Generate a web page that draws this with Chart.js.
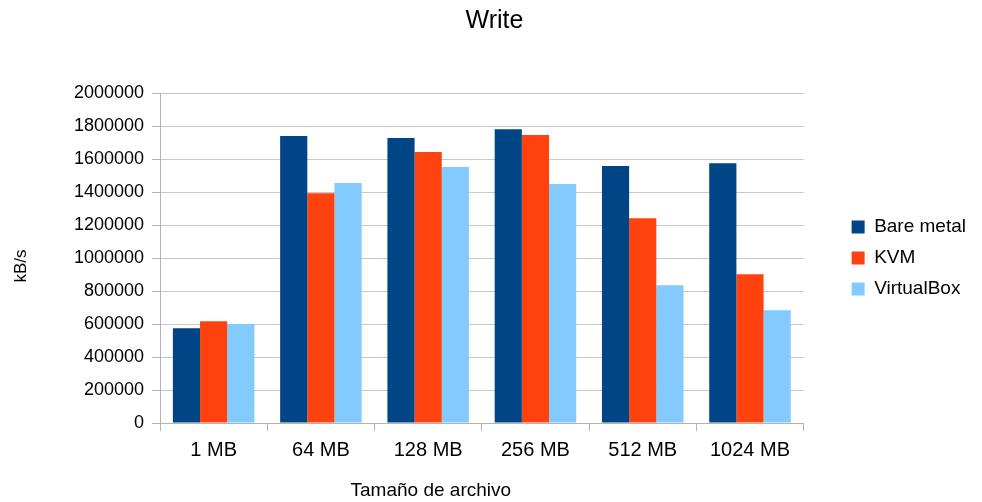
<!DOCTYPE html>
<html>
<head>
<meta charset="utf-8">
<script src="https://cdn.jsdelivr.net/npm/chart.js@4/dist/chart.umd.min.js"></script>
<style>
  html, body { margin: 0; padding: 0; background: #ffffff; }
  #wrap { width: 982px; height: 502px; position: relative; }
</style>
</head>
<body>
<div id="wrap"><canvas id="chart" width="982" height="502"></canvas></div>
<script>
// File sizes tested
const categories = ['1 MB', '64 MB', '128 MB', '256 MB', '512 MB', '1024 MB'];

// Write throughput in kB/s
const bareMetal  = [574000, 1739000, 1727000, 1780000, 1557000, 1575000];
const kvm        = [616000, 1393000, 1642000, 1745000, 1241000, 901000];
const virtualBox = [600000, 1454000, 1551000, 1448000, 835000, 683000];

const yTicks = [0, 200000, 400000, 600000, 800000, 1000000, 1200000, 1400000, 1600000, 1800000, 2000000];

const xTitle = 'Tamaño de archivo';
const yTitle = 'kB/s';

const FONT = "'Liberation Sans', Arial, sans-serif";
const GRID = '#c8c8c8';
const AXIS = '#b3b3b3';

// Axis titles, placed a little off-centre as in the original office chart
const axisTitles = {
  id: 'axisTitles',
  afterDraw(chart) {
    const { ctx, chartArea, scales } = chart;
    ctx.save();
    ctx.fillStyle = '#000000';
    ctx.textAlign = 'center';
    ctx.textBaseline = 'middle';
    ctx.font = "19px " + FONT;
    ctx.fillText(xTitle, (scales.x.left + scales.x.right) / 2 - 51, chartArea.bottom + 68);
    ctx.font = "17px " + FONT;
    ctx.translate(21, (chartArea.top + chartArea.bottom) / 2 + 8);
    ctx.rotate(-Math.PI / 2);
    ctx.fillText(yTitle, 0, 0);
    ctx.restore();
  }
};

new Chart(document.getElementById('chart'), {
  type: 'bar',
  data: {
    labels: categories,
    datasets: [
      { label: 'Bare metal', data: bareMetal, backgroundColor: '#004586' },
      { label: 'KVM', data: kvm, backgroundColor: '#ff420e' },
      { label: 'VirtualBox', data: virtualBox, backgroundColor: '#83caff' }
    ]
  },
  plugins: [axisTitles],
  options: {
    responsive: false,
    animation: false,
    devicePixelRatio: 1,
    layout: { padding: { left: 13, right: 6, top: 0, bottom: 33 } },
    datasets: { bar: { categoryPercentage: 0.76, barPercentage: 1.0, borderWidth: 0 } },
    plugins: {
      title: {
        display: true,
        text: 'Write',
        color: '#000000',
        font: { family: FONT, size: 25, weight: 'normal' },
        padding: { top: 6, bottom: 57 }
      },
      legend: {
        position: 'right',
        align: 'center',
        fullSize: false,
        labels: {
          color: '#000000',
          font: { family: FONT, size: 19 },
          boxWidth: 13,
          boxHeight: 13,
          padding: 12
        }
      },
      tooltip: { enabled: false }
    },
    scales: {
      x: {
        grid: {
          offset: true,
          drawOnChartArea: true,
          color: (ctx) => ctx.index === categories.length ? AXIS : 'rgba(0,0,0,0)',
          tickColor: AXIS,
          tickLength: 8
        },
        border: { color: AXIS, width: 1 },
        ticks: {
          color: '#000000',
          font: { family: FONT, size: 20 },
          padding: 7
        },
        title: { display: false }
      },
      y: {
        min: 0,
        max: 2000000,
        afterBuildTicks: (axis) => { axis.ticks = yTicks.map(v => ({ value: v })); },
        afterFit: (axis) => { axis.width = 147; },
        grid: {
          color: GRID,
          tickColor: AXIS,
          tickLength: 8
        },
        border: { color: AXIS, width: 1 },
        ticks: {
          color: '#000000',
          font: { family: FONT, size: 18 },
          padding: 8,
          callback: (v) => String(v)
        },
        title: { display: false }
      },
      // empty right-hand axis: keeps a gap between the plot and the legend
      gap: {
        type: 'linear',
        position: 'right',
        display: true,
        grid: { display: false },
        border: { display: false },
        ticks: { display: false },
        afterFit: (axis) => { axis.width = 36; }
      }
    }
  }
});
</script>
</body>
</html>
